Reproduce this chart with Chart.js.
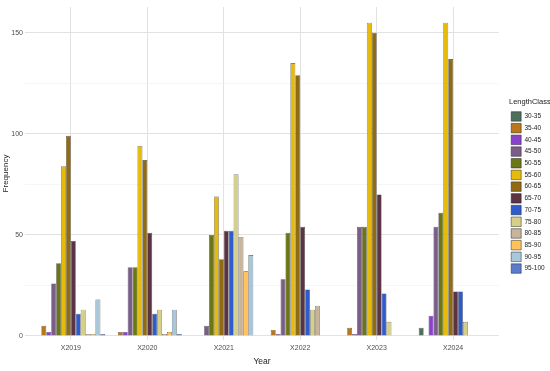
<!DOCTYPE html>
<html>
<head>
<meta charset="utf-8">
<script src="https://cdn.jsdelivr.net/npm/chart.js@4"></script>
<style>
  html, body { margin: 0; padding: 0; background: #fff; }
  #wrap { width: 550px; height: 371px; }
</style>
</head>
<body>
<div id="wrap"><canvas id="myChart"></canvas></div>
<script>
const years = ["X2019", "X2020", "X2021", "X2022", "X2023", "X2024"];
const lengthClasses = ["30-35", "35-40", "40-45", "45-50", "50-55", "55-60", "60-65",
  "65-70", "70-75", "75-80", "80-85", "85-90", "90-95", "95-100"];

// frequency of each length class, one value per year
const c30_35 = [0, 0, 0, 0, 0, 4];
const c35_40 = [5, 2, 0, 3, 4, 0];
const c40_45 = [2, 2, 0, 1, 1, 10];
const c45_50 = [26, 34, 5, 28, 54, 54];
const c50_55 = [36, 34, 50, 51, 54, 61];
const c55_60 = [84, 94, 69, 135, 155, 155];
const c60_65 = [99, 87, 38, 129, 150, 137];
const c65_70 = [47, 51, 52, 54, 70, 22];
const c70_75 = [11, 11, 52, 23, 21, 22];
const c75_80 = [13, 13, 80, 13, 7, 7];
const c80_85 = [1, 1, 49, 15, 0, 0];
const c85_90 = [1, 2, 32, 0, 0, 0];
const c90_95 = [18, 13, 40, 0, 0, 0];
const c95_100 = [1, 1, 0, 0, 0, 0];

const yTicks = [0, 25, 50, 75, 100, 125, 150];

const classData = [c30_35, c35_40, c40_45, c45_50, c50_55, c55_60, c60_65,
  c65_70, c70_75, c75_80, c80_85, c85_90, c90_95, c95_100];

const classColors = ["#4f6e5c", "#b8761e", "#8a42cc", "#7a5e88", "#6b7614", "#e6bb0c", "#8f6b14",
  "#5c3343", "#2e5ccc", "#d6cf8a", "#c7b49a", "#ffc25c", "#a9c7da", "#5b7ccc"];

const ctx = document.getElementById("myChart");

const myChart = new Chart(ctx, {
  type: "bar",
  data: {
    labels: years,
    datasets: lengthClasses.map((lc, i) => ({
      label: lc,
      data: classData[i],
      backgroundColor: classColors[i],
      borderColor: "rgba(30, 30, 30, 0.8)",
      borderWidth: 0.6,
      categoryPercentage: 0.9,
      barPercentage: 1.0,
    })),
  },
  options: {
    responsive: true,
    maintainAspectRatio: false,
    animation: false,
    layout: {
      padding: { top: 7, left: 1, bottom: 4, right: 0 },
    },
    plugins: {
      legend: {
        position: "right",
        maxWidth: 41,
        title: {
          display: true,
          text: "LengthClass",
          color: "#1a1a1a",
          position: "start",
          font: { family: "Liberation Sans", size: 7.5 },
          padding: { top: 0, bottom: 2 },
        },
        labels: {
          boxWidth: 10,
          boxHeight: 9.5,
          padding: 2.2,
          color: "#1a1a1a",
          font: { family: "Liberation Sans", size: 6.5 },
        },
      },
      tooltip: { enabled: false },
    },
    scales: {
      x: {
        offset: true,
        grid: {
          offset: false,
          drawTicks: false,
          color: "#e2e2e2",
        },
        border: { display: false },
        ticks: {
          color: "#4d4d4d",
          padding: 4,
          font: { family: "Liberation Sans", size: 7 },
        },
        title: {
          display: true,
          text: "Year",
          color: "#1a1a1a",
          padding: { top: 1, bottom: 0 },
          font: { family: "Liberation Sans", size: 8.5 },
        },
        afterFit: function (s) {
          s.height = 27;
        },
        afterBuildTicks: function (axis) {
          // ggplot-style 0.6 expansion on discrete axis
          axis._startValue = -0.6;
          axis._valueRange = years.length + 0.2;
        },
      },
      y: {
        min: -2,
        max: 162.75,
        grid: {
          drawTicks: false,
          color: (c) => (c.tick.value % 50 === 0 ? "#e2e2e2" : "#f0f0f0"),
          lineWidth: (c) => (c.tick.value % 50 === 0 ? 1 : 0.6),
        },
        border: { display: false },
        ticks: {
          color: "#4d4d4d",
          padding: 2,
          font: { family: "Liberation Sans", size: 7 },
          callback: function (val) {
            return val % 50 === 0 ? val : "";
          },
        },
        afterBuildTicks: function (axis) {
          axis.ticks = yTicks.map((v) => ({ value: v }));
        },
        afterFit: function (s) {
          s.width = 24;
        },
        title: {
          display: true,
          text: "Frequency",
          color: "#1a1a1a",
          padding: { top: 0, bottom: 2 },
          font: { family: "Liberation Sans", size: 8 },
        },
      },
      gap: {
        position: "right",
        display: true,
        grid: { display: false },
        border: { display: false },
        ticks: { display: false },
        afterFit: function (s) {
          s.width = 10;
        },
      },
    },
  },
});
</script>
</body>
</html>
